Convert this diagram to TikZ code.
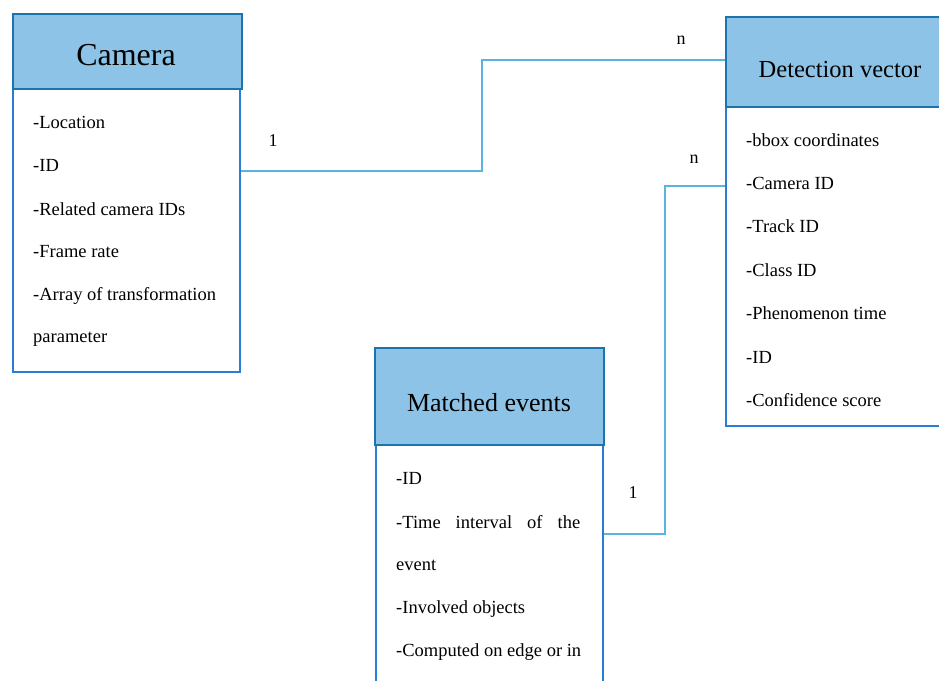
\documentclass[tikz,border=0pt]{standalone}
\usepackage{fontspec}
\setmainfont{Liberation Serif}
\definecolor{hdrfill}{HTML}{8DC3E6}
\definecolor{hdrline}{HTML}{1C74AC}
\definecolor{bodyline}{HTML}{2A7ED2}
\definecolor{conn}{HTML}{5AB4E2}
\begin{document}
\begin{tikzpicture}[x=1pt,y=-1pt,
  hdr/.style={draw=hdrline, fill=hdrfill, line width=2.4pt, anchor=north west, inner sep=0pt},
  body/.style={draw=bodyline, fill=white, line width=2.2pt, anchor=north west, inner sep=0pt},
  ttl/.style={font=\fontsize{24.5}{28}\selectfont, inner sep=0pt},
  item/.style={font=\fontsize{18.5}{21}\selectfont, anchor=west, inner sep=0pt},
  lbl/.style={font=\fontsize{18}{21}\selectfont, inner sep=0pt},
  link/.style={draw=conn, line width=1.4pt}]
\useasboundingbox (0,0) rectangle (939,680);
\clip (0,0) rectangle (939,680);
% Camera
\node[body, minimum width=227pt, minimum height=283pt] (camB) at (12,88) {};
\node[hdr, minimum width=229pt, minimum height=75pt] (camH) at (12,13) {};
\node[ttl, font=\fontsize{32}{36}\selectfont] (camT) at (126,55) {Camera};
\node[item] (c1) at (33,122) {-Location};
\node[item] (c2) at (33,165) {-ID};
\node[item] (c3) at (33,209) {-Related camera IDs};
\node[item] (c4) at (33,252) {-Frame rate};
\node[item] (c5) at (33,296) {-Array of transformation};
\node[item] (c6) at (33,339) {parameter};
% Detection vector
\node[body, minimum width=230pt, minimum height=319pt] (detB) at (725,106) {};
\node[hdr, minimum width=230pt, minimum height=90pt] (detH) at (725,16) {};
\node[ttl] (detT) at (840,70) {Detection vector};
\node[item] (d1) at (746,140) {-bbox coordinates};
\node[item] (d2) at (746,183) {-Camera ID};
\node[item] (d3) at (746,226) {-Track ID};
\node[item] (d4) at (746,270) {-Class ID};
\node[item] (d5) at (746,313) {-Phenomenon time};
\node[item] (d6) at (746,357) {-ID};
\node[item] (d7) at (746,400) {-Confidence score};
% Matched events
\node[body, minimum width=227pt, minimum height=260pt] (matB) at (375,444) {};
\node[hdr, minimum width=229pt, minimum height=97pt] (matH) at (374,347) {};
\node[ttl, font=\fontsize{26}{30}\selectfont] (matT) at (489,403) {Matched events};
\node[item] (m1) at (396,478) {-ID};
\node[item] (m2) at (396,522) {\makebox[184pt][s]{-Time interval of the}};
\node[item] (m3) at (396,565) {event};
\node[item] (m4) at (396,609) {-Involved objects};
\node[item] (m5) at (396,652) {-Computed on edge or in};
% connectors
\coordinate (a1) at (482,171);
\coordinate (a2) at (482,60);
\draw[link] (camB.north east |- a1) -- (a1) -- (a2) -- (detH.west |- a2);
\coordinate (b1) at (665,534);
\coordinate (b2) at (665,186);
\draw[link] (matB.north east |- b1) -- (b1) -- (b2) -- (detB.west |- b2);
\node[lbl] (l1) at (273,141) {1};
\node[lbl] (l2) at (681,40) {n};
\node[lbl] (l3) at (694,159) {n};
\node[lbl] (l4) at (633,493) {1};
\end{tikzpicture}
\end{document}
